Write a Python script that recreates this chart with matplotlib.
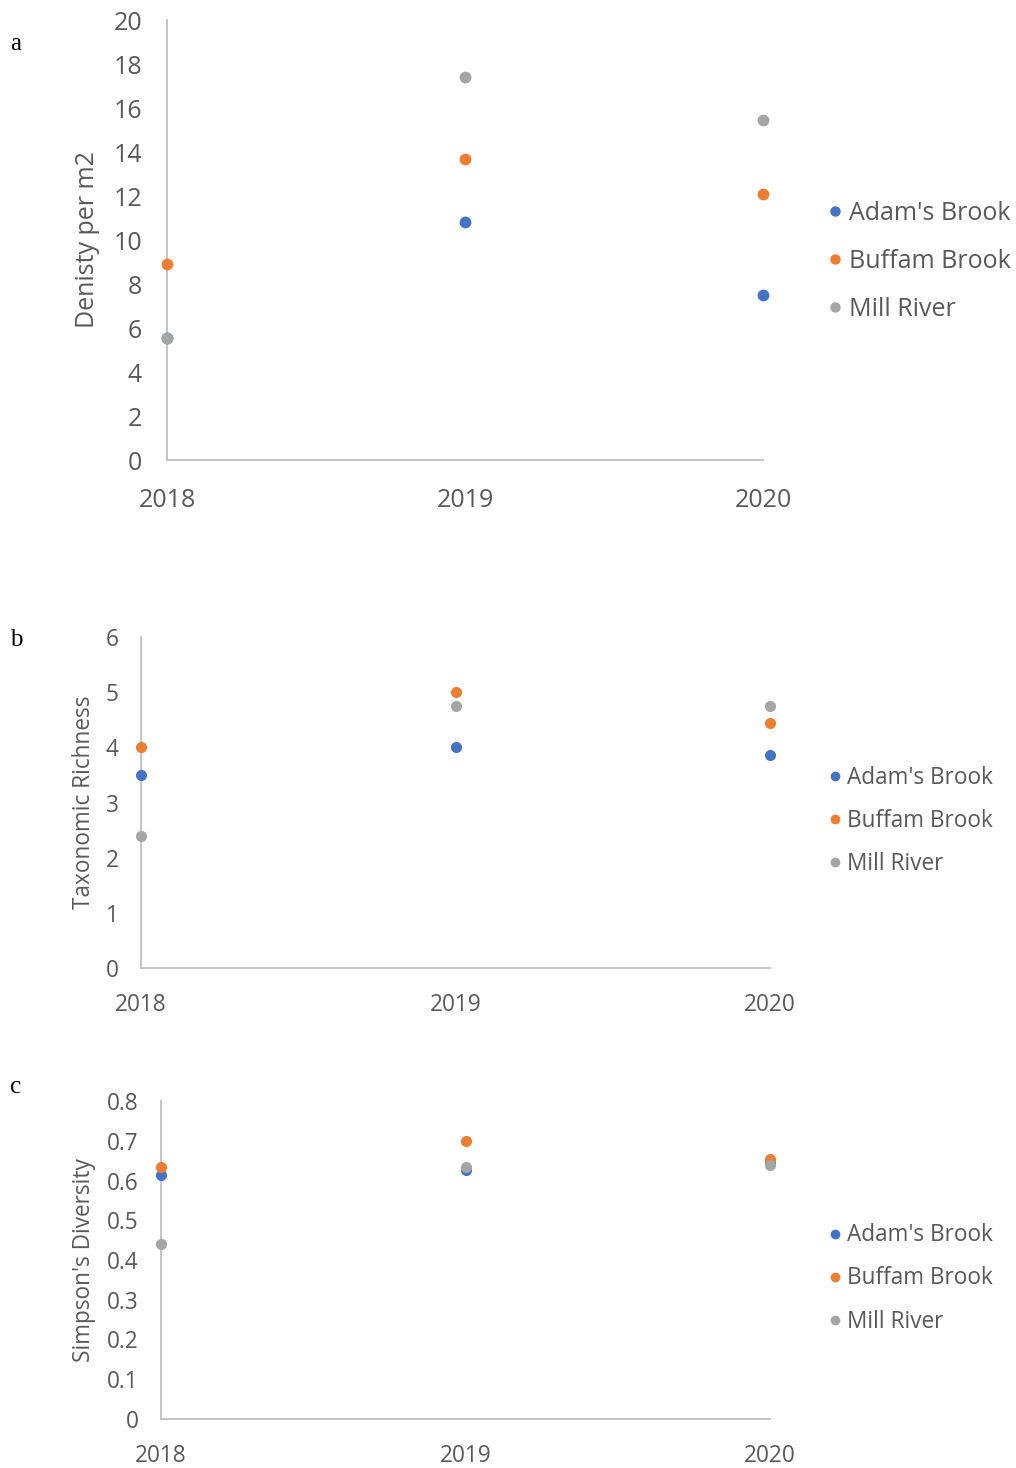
import matplotlib
matplotlib.use("Agg")
import matplotlib.pyplot as plt
from matplotlib.lines import Line2D

plt.rcParams['font.family'] = ['Open Sans', 'DejaVu Sans']

years = ["2018", "2019", "2020"]
sites = ["Adam's Brook", "Buffam Brook", "Mill River"]
colors = ["#4472C4", "#ED7D31", "#A5A5A5"]

density_adams = [5.55, 10.8, 7.5]
density_buffam = [8.9, 13.7, 12.1]
density_mill = [5.55, 17.4, 15.45]

richness_adams = [3.5, 4.0, 3.87]
richness_buffam = [4.0, 5.0, 4.45]
richness_mill = [2.4, 4.75, 4.75]

simpson_adams = [0.613, 0.626, 0.645]
simpson_buffam = [0.634, 0.699, 0.653]
simpson_mill = [0.441, 0.634, 0.640]

y_ticks_a = [0, 2, 4, 6, 8, 10, 12, 14, 16, 18, 20]
y_ticks_b = [0, 1, 2, 3, 4, 5, 6]
y_ticks_c = [0, 0.1, 0.2, 0.3, 0.4, 0.5, 0.6, 0.7, 0.8]
y_ticklabels_c = ["0", "0.1", "0.2", "0.3", "0.4", "0.5", "0.6", "0.7", "0.8"]

W, H = 1016, 1468
fig = plt.figure(figsize=(W / 100, H / 100), dpi=100)

TEXT = "#595959"
AXC = "#BFBFBF"


def axes_px(left, right, top, bottom):
    return fig.add_axes([left / W, 1 - bottom / H, (right - left) / W, (bottom - top) / H])


panels = [
    dict(box=(167, 763, 20, 460), series=[density_adams, density_buffam, density_mill],
         yticks=y_ticks_a, ylabels=[str(t) for t in y_ticks_a], ylim=(0, 20),
         ylabel="Denisty per m2", fs=18, ms=8.5, letter="a", letter_xy=(10, 44),
         ylabel_x=88, ypad=18, xpad=20.5, leg_y=261.5, leg_sp=0.92, leg_ms=7.5),
    dict(box=(141, 770, 637, 968), series=[richness_adams, richness_buffam, richness_mill],
         yticks=y_ticks_b, ylabels=[str(t) for t in y_ticks_b], ylim=(0, 6),
         ylabel="Taxonomic Richness", fs=16.3, ms=8, letter="b", letter_xy=(10, 640),
         ylabel_x=84, ypad=16, xpad=18, leg_y=821, leg_sp=0.84, leg_ms=7),
    dict(box=(161, 770, 1101, 1419), series=[simpson_adams, simpson_buffam, simpson_mill],
         yticks=y_ticks_c, ylabels=y_ticklabels_c, ylim=(0, 0.8),
         ylabel="Simpson's Diversity", fs=16.3, ms=8, letter="c", letter_xy=(10, 1087),
         ylabel_x=84, ypad=16, xpad=18, leg_y=1278.5, leg_sp=0.84, leg_ms=7),
]

for p in panels:
    l, r, t, b = p["box"]
    ax = axes_px(l, r, t, b)
    x = list(range(len(years)))
    for vals, c, name in zip(p["series"], colors, sites):
        ax.plot(x, vals, linestyle="none", marker="o", markersize=p["ms"],
                color=c, markeredgewidth=0, label=name, clip_on=False, zorder=3)
    ax.set_xlim(0, len(years) - 1)
    ax.set_ylim(*p["ylim"])
    ax.set_xticks(x)
    ax.set_xticklabels(years)
    ax.set_yticks(p["yticks"])
    ax.set_yticklabels(p["ylabels"])
    for s in ["top", "right"]:
        ax.spines[s].set_visible(False)
    for s in ["left", "bottom"]:
        ax.spines[s].set_color(AXC)
        ax.spines[s].set_linewidth(1.3)
    ax.tick_params(axis="both", length=0, labelsize=p["fs"], colors=TEXT)
    ax.tick_params(axis="y", pad=p["ypad"])
    ax.tick_params(axis="x", pad=p["xpad"])
    ax.patch.set_visible(False)

    fig.text(p["ylabel_x"] / W, 1 - ((t + b) / 2) / H, p["ylabel"], rotation=90,
             ha="center", va="center", fontsize=p["fs"], color=TEXT)
    fig.text(p["letter_xy"][0] / W, 1 - p["letter_xy"][1] / H, p["letter"],
             family="Liberation Serif", fontsize=18, color="black", ha="left", va="center")

    handles = [Line2D([], [], linestyle="none", marker="o", markersize=p["leg_ms"],
                      color=c, markeredgewidth=0) for c in colors]
    fig.legend(handles, sites, loc="center left",
               bbox_to_anchor=(829 / W, 1 - p["leg_y"] / H),
               frameon=False, fontsize=p["fs"], handlelength=0.5, handletextpad=0.3,
               labelspacing=p["leg_sp"], borderpad=0, borderaxespad=0, labelcolor=TEXT)

fig.savefig("out.png", dpi=100, facecolor="white")
